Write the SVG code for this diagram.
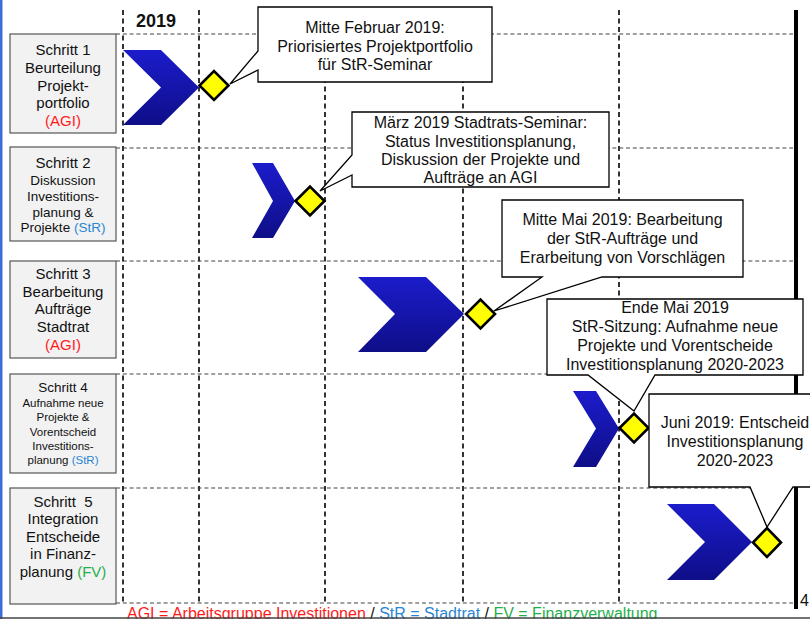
<svg xmlns="http://www.w3.org/2000/svg" width="810" height="619" viewBox="0 0 810 619">
<style>
text{font-family:"Liberation Sans",Arial,sans-serif;fill:#111;text-anchor:middle}
.vd{stroke:#333;stroke-width:2;stroke-dasharray:5,3.5;fill:none}
.hd{stroke:#444;stroke-width:1.2;stroke-dasharray:4,2.8;fill:none}
.step{fill:#f2f2f2;stroke:#555;stroke-width:1.2}
.chev{fill:url(#cg)}
.ms{fill:#ffff00;stroke:#000;stroke-width:2.6;stroke-linejoin:miter}
.co{fill:#fff;stroke:#000;stroke-width:1.3;stroke-linejoin:miter}
.s15{font-size:15px}
.s13{font-size:13.5px}
.s11{font-size:11.5px}
.c16{font-size:16px}
.red{fill:#ff1a1a}
.blu{fill:#2a86d4}
.grn{fill:#1fb04c}
</style>
<defs>
<linearGradient id="cg" x1="0" y1="0" x2="0" y2="1">
<stop offset="0" stop-color="#1c1ccc"/>
<stop offset="1" stop-color="#0e0e88"/>
</linearGradient>
</defs>
<rect x="0" y="0" width="810" height="619" fill="#fff"/>
<rect x="0" y="0" width="2.5" height="619" fill="#3a6fd8"/>
<g id="grid">
<line class="hd" x1="116" y1="34" x2="793" y2="34"/>
<line class="hd" x1="116" y1="148" x2="793" y2="148"/>
<line class="hd" x1="116" y1="261" x2="793" y2="261"/>
<line class="hd" x1="116" y1="374" x2="793" y2="374"/>
<line class="hd" x1="116" y1="488" x2="793" y2="488"/>
<line class="hd" x1="116" y1="603" x2="793" y2="603"/>
<line class="vd" x1="123" y1="10" x2="123" y2="604"/>
<line class="vd" x1="199" y1="10" x2="199" y2="604"/>
<line class="vd" x1="325" y1="10" x2="325" y2="604"/>
<line class="vd" x1="463" y1="10" x2="463" y2="604"/>
<line class="vd" x1="619" y1="10" x2="619" y2="604"/>
</g>
<text x="136" y="27" style="font-size:18px;font-weight:bold;text-anchor:start">2019</text>
<g id="step1">
<rect class="step" x="10" y="34" width="106" height="99"/>
<text class="s15" x="63" y="55">Schritt 1</text>
<text class="s15" x="63" y="73">Beurteilung</text>
<text class="s15" x="63" y="91">Projekt-</text>
<text class="s15" x="63" y="108">portfolio</text>
<text class="s15 red" x="63" y="126">(AGI)</text>
</g>
<g id="step2">
<rect class="step" x="10" y="147" width="106" height="94"/>
<text class="s15" x="63" y="168">Schritt 2</text>
<text class="s13" x="63" y="185">Diskussion</text>
<text class="s13" x="63" y="201">Investitions-</text>
<text class="s13" x="63" y="217">planung &amp;</text>
<text class="s13" x="63" y="232">Projekte <tspan class="blu">(StR)</tspan></text>
</g>
<g id="step3">
<rect class="step" x="10" y="261" width="106" height="97"/>
<text class="s15" x="63" y="279">Schritt 3</text>
<text class="s15" x="63" y="297">Bearbeitung</text>
<text class="s15" x="63" y="314">Aufträge</text>
<text class="s15" x="63" y="332">Stadtrat</text>
<text class="s15 red" x="63" y="350">(AGI)</text>
</g>
<g id="step4">
<rect class="step" x="10" y="374" width="106" height="99"/>
<text class="s13" x="63" y="392">Schritt 4</text>
<text class="s11" x="63" y="407">Aufnahme neue</text>
<text class="s11" x="63" y="421">Projekte &amp;</text>
<text class="s11" x="63" y="436">Vorentscheid</text>
<text class="s11" x="63" y="450">Investitions-</text>
<text class="s11" x="63" y="464">planung <tspan class="blu">(StR)</tspan></text>
</g>
<g id="step5">
<rect class="step" x="10" y="488" width="106" height="116"/>
<text class="s15" x="63" y="507">Schritt&#160; 5</text>
<text class="s15" x="63" y="524">Integration</text>
<text class="s15" x="63" y="542">Entscheide</text>
<text class="s15" x="63" y="559">in Finanz-</text>
<text class="s15" x="63" y="577">planung <tspan class="grn">(FV)</tspan></text>
</g>
<g id="chevrons">
<path id="chev1" class="chev" d="M123,50 L161,50 L199,87.5 L161,125 L123,125 L161,87.5 Z"/>
<path id="chev2" class="chev" d="M252,163 L273,163 L295,201 L273,238 L252,238 L273,201 Z"/>
<path id="chev3" class="chev" d="M358,277 L426,277 L464,314 L426,352 L358,352 L395,314 Z"/>
<path id="chev4" class="chev" d="M573,391 L596,391 L619,428.5 L596,467 L573,467 L596,428.5 Z"/>
<path id="chev5" class="chev" d="M667,504 L714,504 L752,542 L714,580 L667,580 L705,542 Z"/>
</g>
<g id="milestones">
<path id="ms1" class="ms" d="M199.5,85.5 L214,71 L228.5,85.5 L214,100 Z"/>
<path id="ms2" class="ms" d="M295.5,201 L310,186.5 L324.5,201 L310,215.5 Z"/>
<path id="ms3" class="ms" d="M466,314 L480.5,299.5 L495,314 L480.5,328.5 Z"/>
<path id="ms4" class="ms" d="M619.5,428 L634,413.5 L648.5,428 L634,442.5 Z"/>
<path id="ms5" class="ms" d="M753,542.5 L767,528 L781,542.5 L767,557 Z"/>
</g>
<line x1="796" y1="10" x2="796" y2="609" stroke="#000" stroke-width="4"/>
<g id="connectors">
<g id="callout1">
<path class="co" d="M258,7 H492 V82 H258 V70 L230,84 L258,51 Z"/>
<text class="c16" x="375" y="33">Mitte Februar 2019:</text>
<text class="c16" x="375" y="52">Priorisiertes Projektportfolio</text>
<text class="c16" x="375" y="70">für StR-Seminar</text>
</g>
<g id="callout2">
<path class="co" d="M352,112 H609 V187 H352 V175 L320,191 L352,155 Z"/>
<text class="c16" x="480.5" y="128">März 2019 Stadtrats-Seminar:</text>
<text class="c16" x="480.5" y="147">Status Investitionsplanung,</text>
<text class="c16" x="480.5" y="165">Diskussion der Projekte und</text>
<text class="c16" x="480.5" y="183">Aufträge an AGI</text>
</g>
<g id="callout3">
<path class="co" d="M502,200 H743 V277 H602 L494,311 L542,277 H502 Z"/>
<text class="c16" x="622.5" y="225">Mitte Mai 2019: Bearbeitung</text>
<text class="c16" x="622.5" y="244">der StR-Aufträge und</text>
<text class="c16" x="622.5" y="263">Erarbeitung von Vorschlägen</text>
</g>
<g id="callout4">
<path class="co" d="M547,299 H803 V375 H655 L634,411 L588,375 H547 Z"/>
<text class="c16" x="675" y="313">Ende Mai 2019</text>
<text class="c16" x="675" y="332">StR-Sitzung: Aufnahme neue</text>
<text class="c16" x="675" y="351">Projekte und Vorentscheide</text>
<text class="c16" x="675" y="370">Investitionsplanung 2020-2023</text>
</g>
<g id="callout5">
<path class="co" d="M649,394 H822 V487 H793 L767,527 L750,487 H649 Z"/>
<text class="c16" x="735" y="428">Juni 2019: Entscheid</text>
<text class="c16" x="735" y="447">Investitionsplanung</text>
<text class="c16" x="735" y="466">2020-2023</text>
</g>
</g>
<text class="c16" x="800" y="606" style="text-anchor:start">4</text>
<text class="c16" x="127" y="619" style="text-anchor:start"><tspan class="red">AGI = Arbeitsgruppe Investitionen</tspan> / <tspan class="blu">StR = Stadtrat</tspan> / <tspan class="grn">FV = Finanzverwaltung</tspan></text>
<line x1="0" y1="618" x2="810" y2="618" stroke="#444" stroke-width="1.5"/>
</svg>
